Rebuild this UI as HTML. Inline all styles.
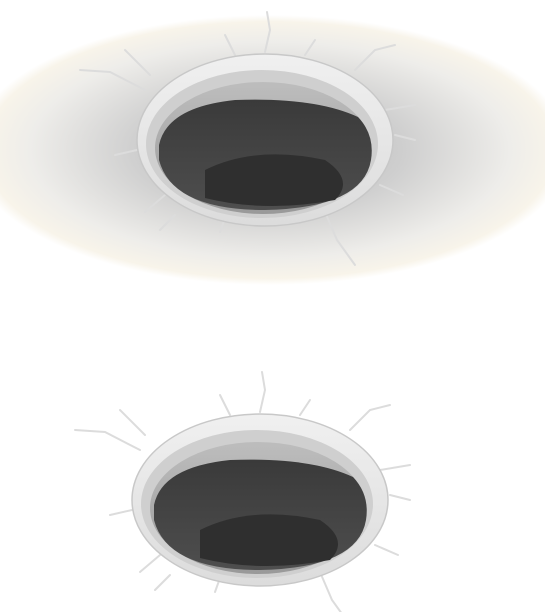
<!DOCTYPE html>
<html><head><meta charset="utf-8"><style>
html,body{margin:0;padding:0;background:#fff;width:545px;height:612px;overflow:hidden}
</style></head><body>
<svg width="545" height="612" viewBox="0 0 545 612" xmlns="http://www.w3.org/2000/svg">
<defs>
<radialGradient id="bg" cx="0.5" cy="0.5" r="0.5">
<stop offset="0" stop-color="#b2b2b2"/>
<stop offset="0.45" stop-color="#cfcfcf"/>
<stop offset="0.8" stop-color="#eeedea"/>
<stop offset="0.95" stop-color="#f8f4ea"/>
<stop offset="1" stop-color="#ffffff"/>
</radialGradient>
<linearGradient id="rim" x1="0" y1="0" x2="0" y2="1">
<stop offset="0" stop-color="#f0f0f0"/><stop offset="1" stop-color="#dcdcdc"/>
</linearGradient>
<linearGradient id="wall" x1="0" y1="0" x2="0" y2="1">
<stop offset="0" stop-color="#bdbdbd"/><stop offset="1" stop-color="#999"/>
</linearGradient>
<linearGradient id="pit" x1="0" y1="0" x2="0" y2="1">
<stop offset="0" stop-color="#3a3a3a"/><stop offset="1" stop-color="#4e4e4e"/>
</linearGradient>
<g id="hole">
<g stroke="#dcdcdc" stroke-width="2" fill="none" stroke-linecap="round">
<path d="M-120,-50 L-155,-68 L-185,-70"/><path d="M-115,-65 L-140,-90"/>
<path d="M0,-88 L5,-110 L2,-128"/><path d="M-30,-85 L-40,-105"/>
<path d="M90,-70 L110,-90 L130,-95"/><path d="M120,-30 L150,-35"/>
<path d="M-128,10 L-150,15"/><path d="M-100,55 L-120,72"/>
<path d="M60,72 L72,100 L90,125"/><path d="M-40,78 L-45,92"/>
<path d="M115,45 L138,55"/><path d="M130,-5 L150,0"/>
<path d="M-90,75 L-105,90"/><path d="M40,-85 L50,-100"/>
</g>
<ellipse cx="0" cy="0" rx="128" ry="86" fill="url(#rim)" stroke="#c8c8c8" stroke-width="1.5"/>
<ellipse cx="-3" cy="4" rx="116" ry="74" fill="#cfcfcf"/>
<ellipse cx="-2" cy="8" rx="108" ry="66" fill="url(#wall)"/>
<path d="M-106,5 Q-98,-33 -30,-40 Q50,-43 93,-23 Q110,-5 106,20 Q98,68 0,70 Q-93,70 -106,20 Z" fill="url(#pit)"/>
<path d="M-60,30 Q-10,5 60,20 Q90,40 70,60 Q0,73 -60,58 Z" fill="#2f2f2f"/>
</g>
</defs>
<ellipse cx="270" cy="150" rx="300" ry="135" fill="url(#bg)"/>
<use href="#hole" x="265" y="140"/>
<use href="#hole" x="260" y="500"/>
</svg>
</body></html>
